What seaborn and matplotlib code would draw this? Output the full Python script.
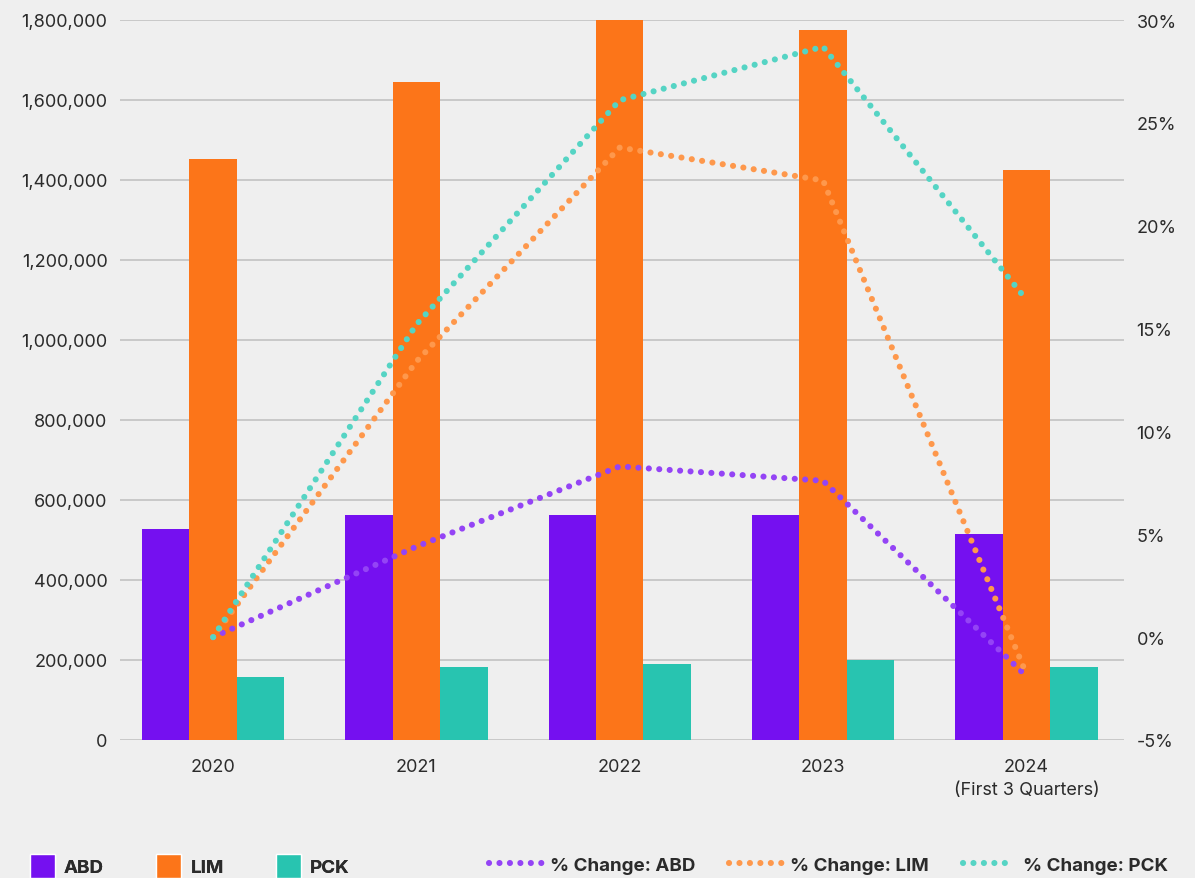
import pandas as pd
import matplotlib.pyplot as plt
import seaborn as sns
from matplotlib.patches import Patch
from matplotlib.lines import Line2D
from matplotlib.ticker import FuncFormatter, MultipleLocator

years = ["2020", "2021", "2022", "2023", "2024"]
year_labels = ["2020", "2021", "2022", "2023", "2024\n(First 3 Quarters)"]
series = ["ABD", "LIM", "PCK"]

abd = [528000, 562000, 562000, 562000, 515000]
lim = [1452000, 1645000, 1800000, 1775000, 1425000]
pck = [157000, 182000, 190000, 200000, 182000]

abd_pct = [0.0, 4.4, 8.3, 7.6, -1.9]
lim_pct = [0.0, 13.4, 23.8, 22.2, -1.8]
pck_pct = [0.0, 15.2, 26.1, 28.7, 16.4]

bar_colors = ["#7510f0", "#fc7519", "#28c4b0"]
line_colors = ["#9444f5", "#fe984c", "#55d4c4"]
BG = "#efefef"
TEXT = "#2b2b2b"

sns.set_theme(style="white")
plt.rcParams["font.family"] = ["Inter", "DejaVu Sans"]

df_bars = pd.DataFrame({
    "year": years * 3,
    "series": [s for s in series for _ in years],
    "value": abd + lim + pck,
})
line_names = [f"% Change: {s}" for s in series]
df_lines = pd.DataFrame({
    "pos": list(range(len(years))) * 3,
    "series": [n for n in line_names for _ in years],
    "pct": abd_pct + lim_pct + pck_pct,
})

fig = plt.figure(figsize=(11.95, 8.79), dpi=100, facecolor=BG)
ax = fig.add_axes([120 / 1195, 1 - 741 / 879, (1124 - 120) / 1195, (741 - 21) / 879])
ax.set_facecolor(BG)

sns.barplot(data=df_bars, x="year", y="value", hue="series", order=years,
            hue_order=series, palette=dict(zip(series, bar_colors)), width=0.7,
            saturation=1, linewidth=0, legend=False, ax=ax)

ax.set_ylim(0, 1800000)
ax.yaxis.set_major_locator(MultipleLocator(200000))
ax.yaxis.set_major_formatter(FuncFormatter(lambda v, p: f"{v:,.0f}"))
ax.yaxis.grid(True, color="#c6c6c6", linewidth=1.3)
ax.set_axisbelow(True)
ax.set_xticks(range(len(years)))
ax.set_xticklabels(year_labels, linespacing=1.45, va="top")
ax.set_xlabel("")
ax.set_ylabel("")
ax.tick_params(axis="y", length=0, pad=9, labelsize=13, labelcolor=TEXT)
ax.tick_params(axis="x", length=0, pad=13, labelsize=13, labelcolor=TEXT)
for s in ax.spines.values():
    s.set_visible(False)

ax2 = ax.twinx()
dot_style = (0, (0.01, 1.7))
sns.lineplot(data=df_lines, x="pos", y="pct", hue="series", hue_order=line_names,
             palette=dict(zip(line_names, line_colors)), linewidth=4.4,
             linestyle=dot_style, dash_capstyle="round", legend=False, ax=ax2)
ax2.set_ylim(-5, 30)
ax2.yaxis.set_major_locator(MultipleLocator(5))
ax2.yaxis.set_major_formatter(FuncFormatter(lambda v, p: f"{v:.0f}%"))
ax2.set_ylabel("")
ax2.set_xlabel("")
ax2.tick_params(axis="y", length=0, pad=9, labelsize=13, labelcolor=TEXT)
for s in ax2.spines.values():
    s.set_visible(False)
ax.set_xlim(-0.458, 4.48)

bar_handles = [Patch(facecolor=c, label=s) for s, c in zip(series, bar_colors)]
line_handles = [Line2D([], [], color=c, lw=4.4, linestyle=dot_style,
                       dash_capstyle="round", label=n)
                for n, c in zip(line_names, line_colors)]
legend_font = dict(weight="bold", size=13.5)
leg1 = fig.legend(handles=bar_handles, loc="center left",
                  bbox_to_anchor=(30 / 1195, 1 - 867 / 879), ncol=3, frameon=False,
                  prop=legend_font, handlelength=1.33, handleheight=1.67,
                  handletextpad=0.48, columnspacing=2.8, borderpad=0, borderaxespad=0,
                  labelcolor=TEXT)
leg2 = fig.legend(handles=line_handles, loc="center left",
                  bbox_to_anchor=(489 / 1195, 1 - 866 / 879), ncol=3, frameon=False,
                  prop=legend_font, handlelength=2.8, handletextpad=0.45,
                  columnspacing=1.8, borderpad=0, borderaxespad=0, labelcolor=TEXT)
fig.add_artist(leg1)

fig.savefig("out.png", dpi=100, facecolor=BG)
